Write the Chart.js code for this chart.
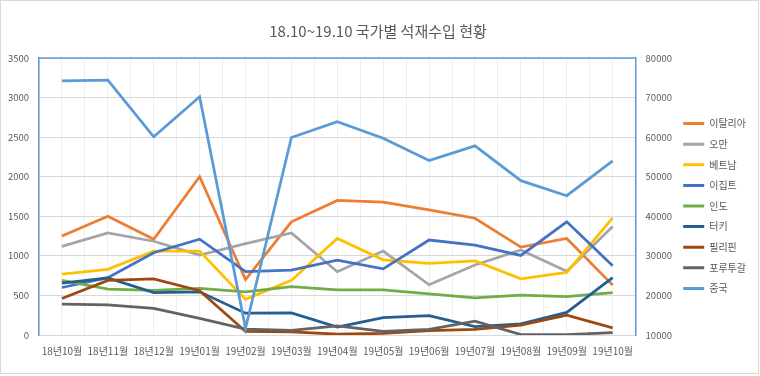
<!DOCTYPE html>
<html>
<head>
<meta charset="utf-8">
<script src="https://cdn.jsdelivr.net/npm/chart.js@4.4.1/dist/chart.umd.min.js"></script>
<style>
html,body{margin:0;padding:0;background:#fff;}
canvas{display:block;}
</style>
</head>
<body>
<canvas id="c" width="760" height="376"></canvas>
<script>
const categories = ['18년10월','18년11월','18년12월','19년01월','19년02월','19년03월','19년04월','19년05월','19년06월','19년07월','19년08월','19년09월','19년10월'];
const seriesNames = ['이탈리아','오만','베트남','이집트','인도','터키','필리핀','포루투갈','중국'];
const italy       = [1250,1500,1210,2000,700,1430,1700,1680,1580,1475,1110,1220,630];
const oman        = [1120,1290,1185,1010,1155,1290,800,1060,635,885,1075,805,1370];
const vietnam     = [770,830,1060,1060,450,690,1220,950,905,935,710,790,1480];
const egypt       = [600,725,1040,1210,800,820,945,835,1200,1135,1005,1430,875];
const india       = [690,580,565,590,545,610,570,570,520,470,505,485,535];
const turkey      = [655,720,535,545,275,280,100,220,245,105,140,285,725];
const philippines = [460,690,710,560,45,40,10,20,55,70,125,250,90];
const portugal    = [390,380,335,210,75,60,115,45,70,175,5,5,30];
const china       = [74200,74400,60100,70200,11700,59900,63900,59700,54100,57800,49000,45200,54000];
const leftTicks = {min:0, max:3500, step:500};
const rightTicks = {min:10000, max:80000, step:10000};

const colors = ['#ED7D31','#A5A5A5','#FFC000','#4472C4','#70AD47','#255E91','#9E480E','#636363','#5B9BD5'];
const values = [italy, oman, vietnam, egypt, india, turkey, philippines, portugal, china];
const FONT = "'Noto Sans CJK KR', 'Noto Sans', sans-serif";

const datasets = values.map((arr, k) => ({
  label: seriesNames[k],
  data: arr.map((v, i) => ({x: i, y: v})),
  borderColor: colors[k],
  backgroundColor: colors[k],
  borderWidth: 2.75,
  pointRadius: 0,
  tension: 0,
  fill: false,
  yAxisID: k === 8 ? 'y2' : 'y',
  order: values.length - k
}));

const framePlugin = {
  id: 'frame',
  beforeDraw(chart) {
    const ctx = chart.ctx;
    ctx.save();
    ctx.fillStyle = '#fff';
    ctx.fillRect(0, 0, chart.width, chart.height);
    ctx.restore();
  },
  beforeDatasetsDraw(chart) {
    const ctx = chart.ctx, a = chart.chartArea;
    ctx.save();
    ctx.strokeStyle = '#5B9BD5';
    ctx.lineWidth = 1.5;
    ctx.beginPath();
    ctx.moveTo(a.left, a.top);
    ctx.lineTo(a.right, a.top);
    ctx.stroke();
    ctx.restore();
  },
  afterDraw(chart) {
    const ctx = chart.ctx;
    ctx.save();
    ctx.strokeStyle = '#d9d9d9';
    ctx.lineWidth = 1;
    ctx.strokeRect(0.5, 0.5, chart.width - 2, chart.height - 3);
    ctx.restore();
  }
};

new Chart(document.getElementById('c'), {
  type: 'line',
  data: { datasets },
  plugins: [framePlugin],
  options: {
    responsive: false,
    animation: false,
    devicePixelRatio: 1,
    layout: { padding: { left: 0, right: 4, top: 0, bottom: 9 } },
    plugins: {
      tooltip: { enabled: false },
      title: {
        display: true,
        text: '18.10~19.10 국가별 석재수입 현황',
        color: '#595959',
        font: { family: FONT, size: 15, weight: 'normal' },
        padding: { top: 22, bottom: 18 }
      },
      legend: {
        position: 'right',
        align: 'start',
        title: { display: true, text: ' ', font: { size: 10 }, padding: { top: 96, bottom: 0 } },
        labels: {
          color: '#595959',
          font: { family: FONT, size: 10 },
          boxWidth: 21,
          boxHeight: 3,
          padding: 10.6,
          sort: (a, b) => a.datasetIndex - b.datasetIndex,
          generateLabels(chart) {
            const items = Chart.defaults.plugins.legend.labels.generateLabels(chart);
            items.forEach(it => { it.lineWidth = 0; it.fillStyle = it.strokeStyle; });
            return items;
          }
        }
      }
    },
    scales: {
      x: {
        type: 'linear',
        min: -0.5,
        max: categories.length - 0.5,
        grid: { color: '#eeeeee', drawTicks: false },
        border: { color: '#d9d9d9', width: 1 },
        ticks: {
          stepSize: 0.5,
          autoSkip: false,
          maxRotation: 0,
          padding: 10,
          color: '#595959',
          font: { family: FONT, size: 10 },
          callback: (v) => {
            const r = Math.round(v);
            return (Math.abs(v - r) < 1e-6 && r >= 0 && r < categories.length) ? categories[r] : '';
          }
        }
      },
      y: {
        position: 'left',
        min: leftTicks.min, max: leftTicks.max,
        grid: { color: '#d9d9d9', drawTicks: false },
        border: { color: '#5B9BD5', width: 1.5 },
        ticks: { stepSize: leftTicks.step, padding: 10, color: '#595959', font: { family: FONT, size: 9.5 }, callback: v => String(v) },
        afterFit(s) { s.width = 39; }
      },
      y2: {
        position: 'right',
        min: rightTicks.min, max: rightTicks.max,
        grid: { drawOnChartArea: false, drawTicks: false },
        border: { color: '#5B9BD5', width: 1.5 },
        ticks: { stepSize: rightTicks.step, padding: 10, color: '#595959', font: { family: FONT, size: 9.5 }, callback: v => String(v) },
        afterFit(s) { s.width = 37; }
      }
    }
  }
});
</script>
</body>
</html>
